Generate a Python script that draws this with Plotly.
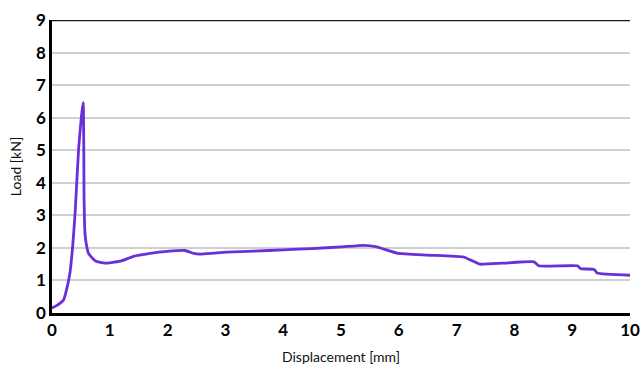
import plotly.graph_objects as go

# Load–displacement curve
displacement_mm = [0.0, 0.1, 0.2, 0.25, 0.31, 0.36, 0.4, 0.46, 0.51, 0.54, 0.555, 0.57, 0.6, 0.63, 0.7, 0.77,
                   0.95, 1.2, 1.41, 1.7, 1.99, 2.3, 2.45, 2.56, 2.8, 3.02, 3.5, 4.0, 4.5, 5.0, 5.39,
                   5.6, 5.97, 6.5, 7.12, 7.25, 7.4, 7.8, 8.34, 8.42, 9.09, 9.15, 9.38, 9.43, 10.0]
load_kN = [0.15, 0.25, 0.4, 0.7, 1.23, 2.1, 3.08, 5.03, 6.06, 6.47, 3.5, 2.46, 2.05, 1.84, 1.68, 1.58,
           1.53, 1.6, 1.74, 1.83, 1.89, 1.92, 1.83, 1.81, 1.84, 1.87, 1.9, 1.94, 1.98, 2.03, 2.08,
           2.04, 1.84, 1.78, 1.72, 1.62, 1.5, 1.53, 1.57, 1.45, 1.45, 1.36, 1.34, 1.23, 1.16]

x_ticks = list(range(0, 11))
y_ticks = list(range(0, 10))

FONT = "Lato, Open Sans, sans-serif"

fig = go.Figure()
fig.add_trace(go.Scatter(
    x=displacement_mm, y=load_kN, mode="lines",
    line=dict(color="#6a2fd8", width=2.8, shape="spline", smoothing=0.4),
    showlegend=False, hoverinfo="skip",
))

tick_font = dict(family=FONT, size=17, color="#000000", weight="bold")
title_font = dict(family=FONT, size=14, color="#111111")

fig.update_layout(
    width=640, height=366,
    margin=dict(l=52, r=10, t=20, b=53),
    paper_bgcolor="white", plot_bgcolor="white",
    xaxis=dict(
        range=[0, 10], tickvals=x_ticks, ticktext=[str(v) for v in x_ticks],
        showgrid=False, zeroline=False, automargin=False,
        showline=True, linecolor="black", linewidth=2.5,
        ticks="", tickfont=tick_font,
        title=dict(text="Displacement [mm]", font=title_font, standoff=14),
    ),
    yaxis=dict(
        range=[0, 9], tickvals=y_ticks, ticktext=[str(v) for v in y_ticks],
        showgrid=True, gridcolor="#cfcfcf", gridwidth=2, zeroline=False, automargin=False,
        showline=True, linecolor="black", linewidth=2.5,
        ticks="", tickfont=tick_font,
        title=dict(text="Load [kN]", font=title_font, standoff=12),
    ),
)

# dark top border of the plot area
fig.add_shape(type="line", xref="paper", yref="y", x0=0, x1=1, y0=9, y1=9,
              line=dict(color="#1a1a1a", width=2.5))

fig.write_html("out.html")
